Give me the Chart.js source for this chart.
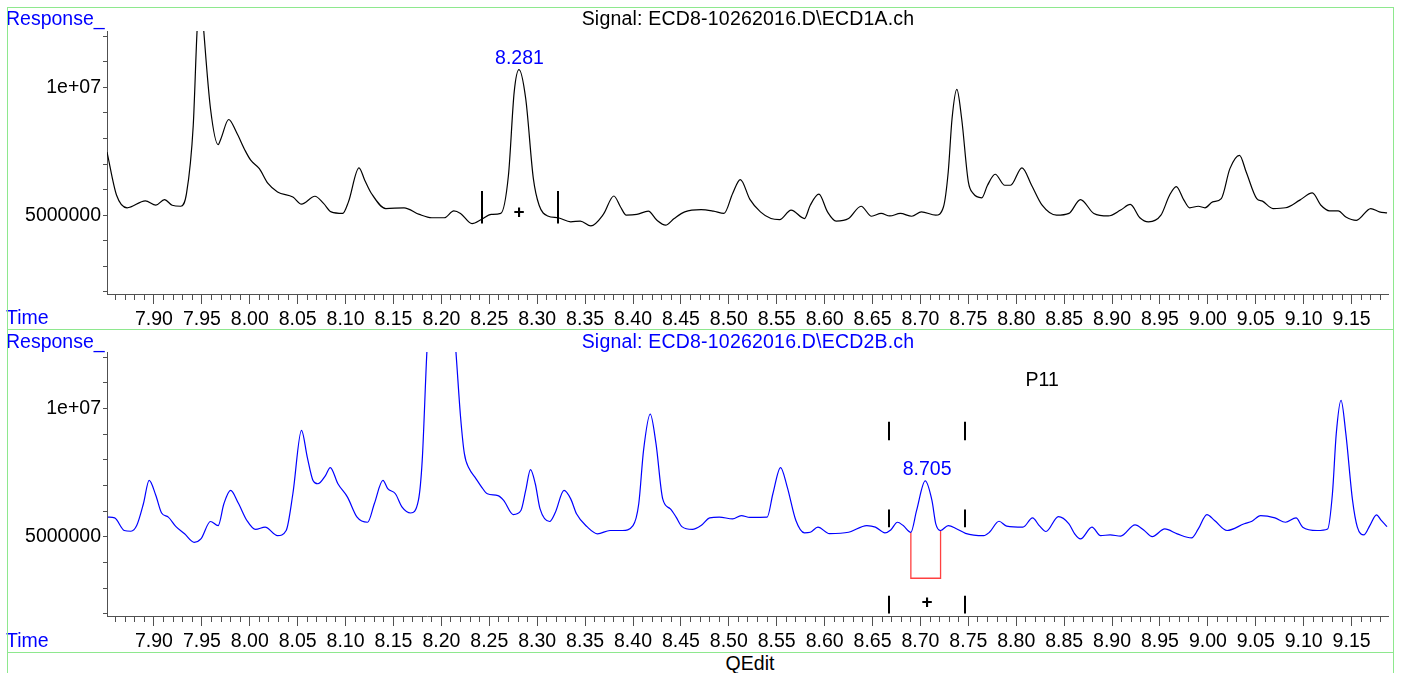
<!DOCTYPE html>
<html><head><meta charset="utf-8">
<script src="https://cdn.jsdelivr.net/npm/chart.js@4.4.1/dist/chart.umd.min.js"></script>
<style>
html,body{margin:0;padding:0;background:#fff;width:1401px;height:673px;overflow:hidden;}
#wrap{position:relative;width:1401px;height:673px;font-family:"Liberation Sans",Arial,sans-serif;}
canvas{position:absolute;left:0;}
.t{position:absolute;font-size:19.5px;line-height:19.5px;white-space:nowrap;z-index:3;}
.ctr{transform:translateX(-50%);}
.g{position:absolute;background:#8ee88e;z-index:4;}
</style></head><body><div id="wrap">
<canvas id="c1" width="1401" height="330" style="top:0;width:1401px;height:330px"></canvas>
<canvas id="c2" width="1401" height="330" style="top:322px;width:1401px;height:330px"></canvas>
<div class="t" style="left:6px;top:9px;color:#0000ff">Response_</div>
<div class="t ctr" style="left:748px;top:9px;color:#000;letter-spacing:0.2px">Signal: ECD8-10262016.D\ECD1A.ch</div>
<div class="t" style="left:6px;top:308px;color:#0000ff">Time</div>
<div class="t" style="left:6px;top:332px;color:#0000ff">Response_</div>
<div class="t ctr" style="left:748px;top:332px;color:#0000ff;letter-spacing:0.2px">Signal: ECD8-10262016.D\ECD2B.ch</div>
<div class="t" style="left:6px;top:631px;color:#0000ff">Time</div>
<div class="t ctr" style="left:750px;top:653.5px;color:#000">QEdit</div>
<div class="g" style="left:7px;top:7px;width:1387px;height:1px"></div>
<div class="g" style="left:7px;top:329px;width:1387px;height:1px"></div>
<div class="g" style="left:7px;top:652px;width:1387px;height:1px"></div>
<div class="g" style="left:7px;top:7px;width:1px;height:666px"></div>
<div class="g" style="left:1393px;top:7px;width:1px;height:666px"></div>
</div>
<script>
// ---------- data ----------
const topTime = [7.851,7.861,7.872,7.891,7.902,7.911,7.919,7.928,7.934,7.941,7.945,7.9485,7.952,7.959,7.967,7.970,7.978,7.986,7.995,8.001,8.010,8.019,8.029,8.045,8.054,8.068,8.077,8.085,8.097,8.103,8.114,8.120,8.127,8.142,8.161,8.177,8.190,8.203,8.213,8.220,8.232,8.242,8.252,8.262,8.270,8.276,8.281,8.288,8.296,8.302,8.311,8.322,8.335,8.345,8.356,8.369,8.380,8.387,8.393,8.404,8.416,8.425,8.434,8.443,8.454,8.471,8.484,8.495,8.504,8.512,8.522,8.533,8.544,8.553,8.565,8.579,8.585,8.594,8.603,8.612,8.625,8.638,8.649,8.659,8.668,8.679,8.691,8.701,8.716,8.724,8.729,8.733,8.738,8.743,8.750,8.755,8.764,8.770,8.778,8.788,8.794,8.806,8.816,8.827,8.842,8.855,8.867,8.881,8.896,8.909,8.919,8.929,8.938,8.951,8.960,8.967,8.975,8.981,8.990,8.997,9.005,9.014,9.023,9.033,9.040,9.051,9.057,9.068,9.081,9.096,9.109,9.118,9.127,9.136,9.144,9.155,9.170,9.179,9.187];
const topResp = [7.47e6,5.78e6,5.29e6,5.56e6,5.39e6,5.61e6,5.39e6,5.35e6,5.85e6,8.5e6,12.2e6,14.0e6,12.2e6,9.17e6,7.76e6,8.0e6,8.74e6,8.25e6,7.54e6,7.15e6,6.82e6,6.24e6,5.91e6,5.71e6,5.43e6,5.74e6,5.46e6,5.13e6,5.07e6,5.52e6,6.85e6,6.37e6,5.85e6,5.26e6,5.29e6,5.03e6,4.90e6,4.90e6,5.17e6,5.07e6,4.67e6,4.84e6,5.03e6,5.07e6,6.56e6,9.82e6,10.69e6,9.56e6,6.43e6,5.39e6,4.97e6,4.90e6,4.74e6,4.77e6,4.58e6,5.03e6,5.75e6,5.32e6,5.00e6,5.03e6,5.16e6,4.80e6,4.61e6,4.87e6,5.13e6,5.22e6,5.16e6,5.07e6,5.85e6,6.39e6,5.62e6,5.13e6,4.87e6,4.83e6,5.20e6,4.87e6,5.39e6,5.82e6,5.13e6,4.77e6,4.87e6,5.35e6,4.96e6,5.07e6,4.97e6,5.07e6,4.96e6,5.13e6,5.00e6,5.32e6,6.69e6,8.78e6,9.92e6,8.78e6,6.30e6,5.85e6,5.68e6,6.17e6,6.60e6,6.17e6,6.17e6,6.85e6,6.17e6,5.39e6,5.00e6,5.07e6,5.61e6,5.07e6,4.97e6,5.20e6,5.42e6,4.90e6,4.74e6,5.00e6,5.78e6,6.12e6,5.59e6,5.29e6,5.35e6,5.29e6,5.52e6,5.65e6,6.82e6,7.34e6,6.69e6,5.65e6,5.55e6,5.26e6,5.29e6,5.59e6,5.87e6,5.39e6,5.17e6,5.17e6,4.93e6,4.80e6,5.26e6,5.13e6,5.09e6];

const botTime = [7.852,7.859,7.869,7.876,7.882,7.889,7.895,7.902,7.908,7.915,7.923,7.932,7.942,7.949,7.959,7.967,7.973,7.980,7.988,7.997,8.006,8.016,8.029,8.038,8.045,8.054,8.060,8.066,8.071,8.079,8.084,8.092,8.102,8.112,8.123,8.130,8.139,8.144,8.152,8.159,8.168,8.176,8.180,8.185,8.190,8.199,8.208,8.215,8.220,8.224,8.229,8.235,8.242,8.248,8.259,8.265,8.275,8.283,8.288,8.293,8.298,8.303,8.313,8.319,8.328,8.335,8.341,8.352,8.363,8.376,8.389,8.400,8.406,8.411,8.418,8.424,8.431,8.439,8.445,8.451,8.462,8.471,8.480,8.490,8.504,8.513,8.522,8.540,8.546,8.554,8.561,8.570,8.579,8.585,8.593,8.605,8.625,8.644,8.653,8.663,8.669,8.676,8.682,8.690,8.696,8.705,8.712,8.716,8.721,8.729,8.738,8.747,8.766,8.772,8.782,8.790,8.807,8.817,8.824,8.831,8.844,8.855,8.861,8.867,8.879,8.888,8.898,8.909,8.924,8.933,8.942,8.955,8.968,8.983,8.990,8.999,9.007,9.020,9.038,9.046,9.055,9.070,9.081,9.092,9.099,9.114,9.125,9.130,9.134,9.139,9.144,9.151,9.156,9.163,9.169,9.176,9.181,9.187];
const botResp = [5.77e6,5.74e6,5.25e6,5.22e6,5.44e6,6.29e6,7.20e6,6.61e6,5.93e6,5.77e6,5.40e6,5.12e6,4.79e6,4.92e6,5.60e6,5.44e6,6.29e6,6.81e6,6.32e6,5.64e6,5.29e6,5.38e6,5.05e6,5.25e6,6.68e6,9.15e6,8.11e6,7.20e6,7.07e6,7.39e6,7.70e6,7.07e6,6.55e6,5.77e6,5.57e6,6.29e6,7.20e6,6.88e6,6.68e6,6.16e6,5.93e6,6.42e6,7.98e6,12.3e6,15.0e6,16.5e6,15.5e6,12.3e6,9.68e6,8.24e6,7.66e6,7.33e6,6.94e6,6.68e6,6.61e6,6.42e6,5.87e6,6.03e6,6.81e6,7.62e6,7.07e6,6.09e6,5.60e6,5.96e6,6.81e6,6.48e6,5.90e6,5.40e6,5.12e6,5.25e6,5.25e6,5.44e6,6.29e6,8.37e6,9.78e6,8.63e6,6.48e6,6.09e6,5.77e6,5.40e6,5.29e6,5.44e6,5.74e6,5.77e6,5.70e6,5.83e6,5.76e6,5.77e6,6.68e6,7.70e6,6.94e6,5.64e6,5.16e6,5.18e6,5.38e6,5.13e6,5.18e6,5.44e6,5.38e6,5.16e6,5.27e6,5.57e6,5.44e6,5.18e6,6.03e6,7.18e6,6.42e6,5.51e6,5.25e6,5.44e6,5.31e6,5.14e6,5.05e6,5.18e6,5.61e6,5.42e6,5.38e6,5.74e6,5.44e6,5.21e6,5.79e6,5.51e6,5.12e6,4.92e6,5.38e6,5.05e6,5.08e6,5.03e6,5.47e6,5.27e6,5.01e6,5.31e6,5.12e6,4.96e6,5.31e6,5.87e6,5.64e6,5.25e6,5.51e6,5.61e6,5.83e6,5.74e6,5.57e6,5.74e6,5.38e6,5.25e6,5.31e6,6.68e6,9.02e6,10.32e6,9.02e6,6.42e6,5.38e6,5.08e6,5.44e6,5.86e6,5.64e6,5.40e6];

// integration baseline box (ECD2B peak 8.705)
const boxTime = [8.690, 8.690, 8.721, 8.721];
const boxResp = [5.18e6, 3.39e6, 3.39e6, 5.25e6];

// axis ticks
const xTickLabels = ['7.90','7.95','8.00','8.05','8.10','8.15','8.20','8.25','8.30','8.35','8.40','8.45','8.50','8.55','8.60','8.65','8.70','8.75','8.80','8.85','8.90','8.95','9.00','9.05','9.10','9.15'];
const xMinorFirst = 786, xMinorLast = 918; // hundredths of a minute
const yTickValues = [2e6,3e6,4e6,5e6,6e6,7e6,8e6,9e6,10e6,11e6,12e6];
const yLabelValues = [5000000, 10000000];
const yLabelTexts = ['5000000', '1e+07'];

// annotations
const topBarTimes = [8.242, 8.322];
const topBarRange = [5.95e6, 4.68e6];
const topPlus = [8.281, 5.1e6];
const topPeakLabel = ['8.281', 8.2815, 11.12e6];

const botBarTimes = [8.667, 8.747];
const botBarRanges = [[9.48e6, 8.76e6], [6.07e6, 5.38e6], [2.71e6, 2.02e6]];
const botPlus = [8.707, 2.45e6];
const botPeakLabel = ['8.705', 8.707, 7.62e6];
const botCompound = ['P11', 8.827, 11.07e6];

// ---------- chart setup ----------
const FONT = '"Liberation Sans", Arial, sans-serif';
const AXIS = '#505050';
const XMIN = 7.851, XMAX = 9.188;
const YMIN = 1.92e6, YMAX = 12.2e6;
const xTickValues = [];
for (let i = xMinorFirst; i <= xMinorLast; i++) xTickValues.push(i / 100);
const xMajorValues = xTickLabels.map(parseFloat);

function xLabel(v) {
  for (let i = 0; i < xMajorValues.length; i++) if (Math.abs(xMajorValues[i] - v) < 1e-6) return xTickLabels[i];
  return '';
}
function yLabel(v) {
  for (let i = 0; i < yLabelValues.length; i++) if (Math.abs(yLabelValues[i] - v) < 1) return yLabelTexts[i];
  return '';
}
function align(px, w) { return Math.round(px - w / 2) + w / 2; }

const marksPlugin = {
  id: 'marks',
  afterDraw(chart) {
    const o = chart.options.plugins.marks;
    const { ctx, chartArea } = chart;
    const x = chart.scales.x, y = chart.scales.y;
    ctx.save();
    // longer major ticks
    ctx.strokeStyle = AXIS; ctx.lineWidth = 1;
    for (const v of xMajorValues) {
      const px = align(x.getPixelForValue(v), 1);
      ctx.beginPath(); ctx.moveTo(px, chartArea.bottom); ctx.lineTo(px, chartArea.bottom + 10); ctx.stroke();
    }
    // integration event bars
    ctx.strokeStyle = '#000'; ctx.lineWidth = 2;
    for (const t of o.barTimes) {
      const px = align(x.getPixelForValue(t), 2);
      for (const r of o.barRanges) {
        ctx.beginPath(); ctx.moveTo(px, y.getPixelForValue(r[0])); ctx.lineTo(px, y.getPixelForValue(r[1])); ctx.stroke();
      }
    }
    ctx.textAlign = 'center'; ctx.textBaseline = 'middle';
    ctx.fillStyle = '#000'; ctx.font = 'bold 19px ' + FONT;
    ctx.fillText('+', x.getPixelForValue(o.plus[0]), y.getPixelForValue(o.plus[1]));
    ctx.font = '19.5px ' + FONT;
    for (const l of o.labels) {
      ctx.fillStyle = l[3];
      ctx.fillText(l[0], x.getPixelForValue(l[1]), y.getPixelForValue(l[2]));
    }
    ctx.restore();
  }
};

function pts(ts, vs) { return ts.map((t, i) => ({ x: t, y: vs[i] })); }

function makeChart(id, padTop, datasets, marks) {
  return new Chart(document.getElementById(id), {
    type: 'line',
    data: { datasets },
    options: {
      responsive: false, animation: false, events: [],
      layout: { padding: { top: padTop, right: 13, left: 0, bottom: 0 } },
      plugins: { legend: { display: false }, title: { display: false }, tooltip: { enabled: false }, marks },
      scales: {
        x: {
          type: 'linear', min: XMIN, max: XMAX,
          afterBuildTicks: s => { s.ticks = xTickValues.map(v => ({ value: v })); },
          afterFit: s => { s.height = 36; },
          ticks: { autoSkip: false, maxRotation: 0, minRotation: 0, padding: 8, color: '#000',
                   font: { family: FONT, size: 19.5 }, callback: v => xLabel(v) },
          grid: { drawOnChartArea: false, drawTicks: true, tickLength: 6, tickColor: AXIS, tickWidth: 1 },
          border: { display: true, color: AXIS, width: 1 }
        },
        y: {
          type: 'linear', min: YMIN, max: YMAX,
          afterBuildTicks: s => { s.ticks = yTickValues.map(v => ({ value: v })); },
          afterFit: s => { s.width = 107; },
          ticks: { autoSkip: false, padding: 2, color: '#000', font: { family: FONT, size: 19.5 }, callback: v => yLabel(v) },
          grid: { drawOnChartArea: false, drawTicks: true, tickLength: 4, tickColor: AXIS, tickWidth: 1 },
          border: { display: true, color: AXIS, width: 1 }
        }
      }
    },
    plugins: [marksPlugin]
  });
}

const lineStyle = { pointRadius: 0, borderWidth: 1.2, fill: false, cubicInterpolationMode: 'monotone' };

makeChart('c1', 31, [
  Object.assign({ data: pts(topTime, topResp), borderColor: '#000000' }, lineStyle)
], {
  barTimes: topBarTimes, barRanges: [topBarRange], plus: topPlus,
  labels: [[topPeakLabel[0], topPeakLabel[1], topPeakLabel[2], '#0000ff']]
});

makeChart('c2', 30, [
  Object.assign({ data: pts(botTime, botResp), borderColor: '#0000ff' }, lineStyle),
  { data: pts(boxTime, boxResp), borderColor: '#ff4040', borderWidth: 1.3, pointRadius: 0, tension: 0, fill: false }
], {
  barTimes: botBarTimes, barRanges: botBarRanges, plus: botPlus,
  labels: [[botPeakLabel[0], botPeakLabel[1], botPeakLabel[2], '#0000ff'],
           [botCompound[0], botCompound[1], botCompound[2], '#000000']]
});
</script>
</body></html>
